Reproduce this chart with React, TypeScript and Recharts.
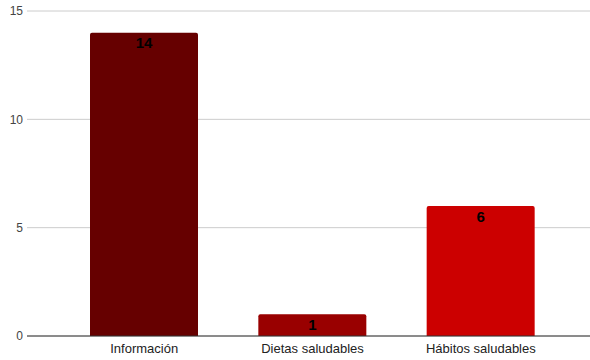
import { BarChart, Bar, XAxis, YAxis, CartesianGrid, LabelList, Cell } from "recharts";

const categories = ["Información", "Dietas saludables", "Hábitos saludables"];
const values = [14, 1, 6];
const barColors = ["#660000", "#990000", "#cc0000"];
const yTicks = [0, 5, 10, 15];

const data = categories.map((name, i) => ({ name, value: values[i] }));

export default function App() {
  return (
    <div style={{ position: "fixed", top: 0, left: 0, width: 590, height: 360, background: "#fff", fontFamily: "Arial, 'Liberation Sans', sans-serif" }}>
      <BarChart width={590} height={360} data={data} margin={{ top: 11, right: 0, bottom: 0, left: 0 }}>
        <CartesianGrid vertical={false} stroke="#cccccc" />
        <XAxis
          dataKey="name"
          height={24}
          tickLine={false}
          axisLine={{ stroke: "#333333" }}
          padding={{ left: 33, right: 25 }}
          tick={{ fill: "#222222", fontSize: 13 }}
          tickMargin={2}
          interval={0}
        />
        <YAxis
          width={27}
          domain={[0, 15]}
          ticks={yTicks}
          axisLine={false}
          tickLine={false}
          tickSize={0}
          tickMargin={4}
          tick={{ fill: "#444444", fontSize: 12 }}
        />
        <Bar dataKey="value" barSize={108} radius={[2, 2, 0, 0]} isAnimationActive={false}>
          {data.map((d, i) => (
            <Cell key={d.name} fill={barColors[i]} />
          ))}
          <LabelList dataKey="value" position="insideTop" offset={5} fill="#000000" fontSize={15} fontWeight="bold" />
        </Bar>
      </BarChart>
    </div>
  );
}
